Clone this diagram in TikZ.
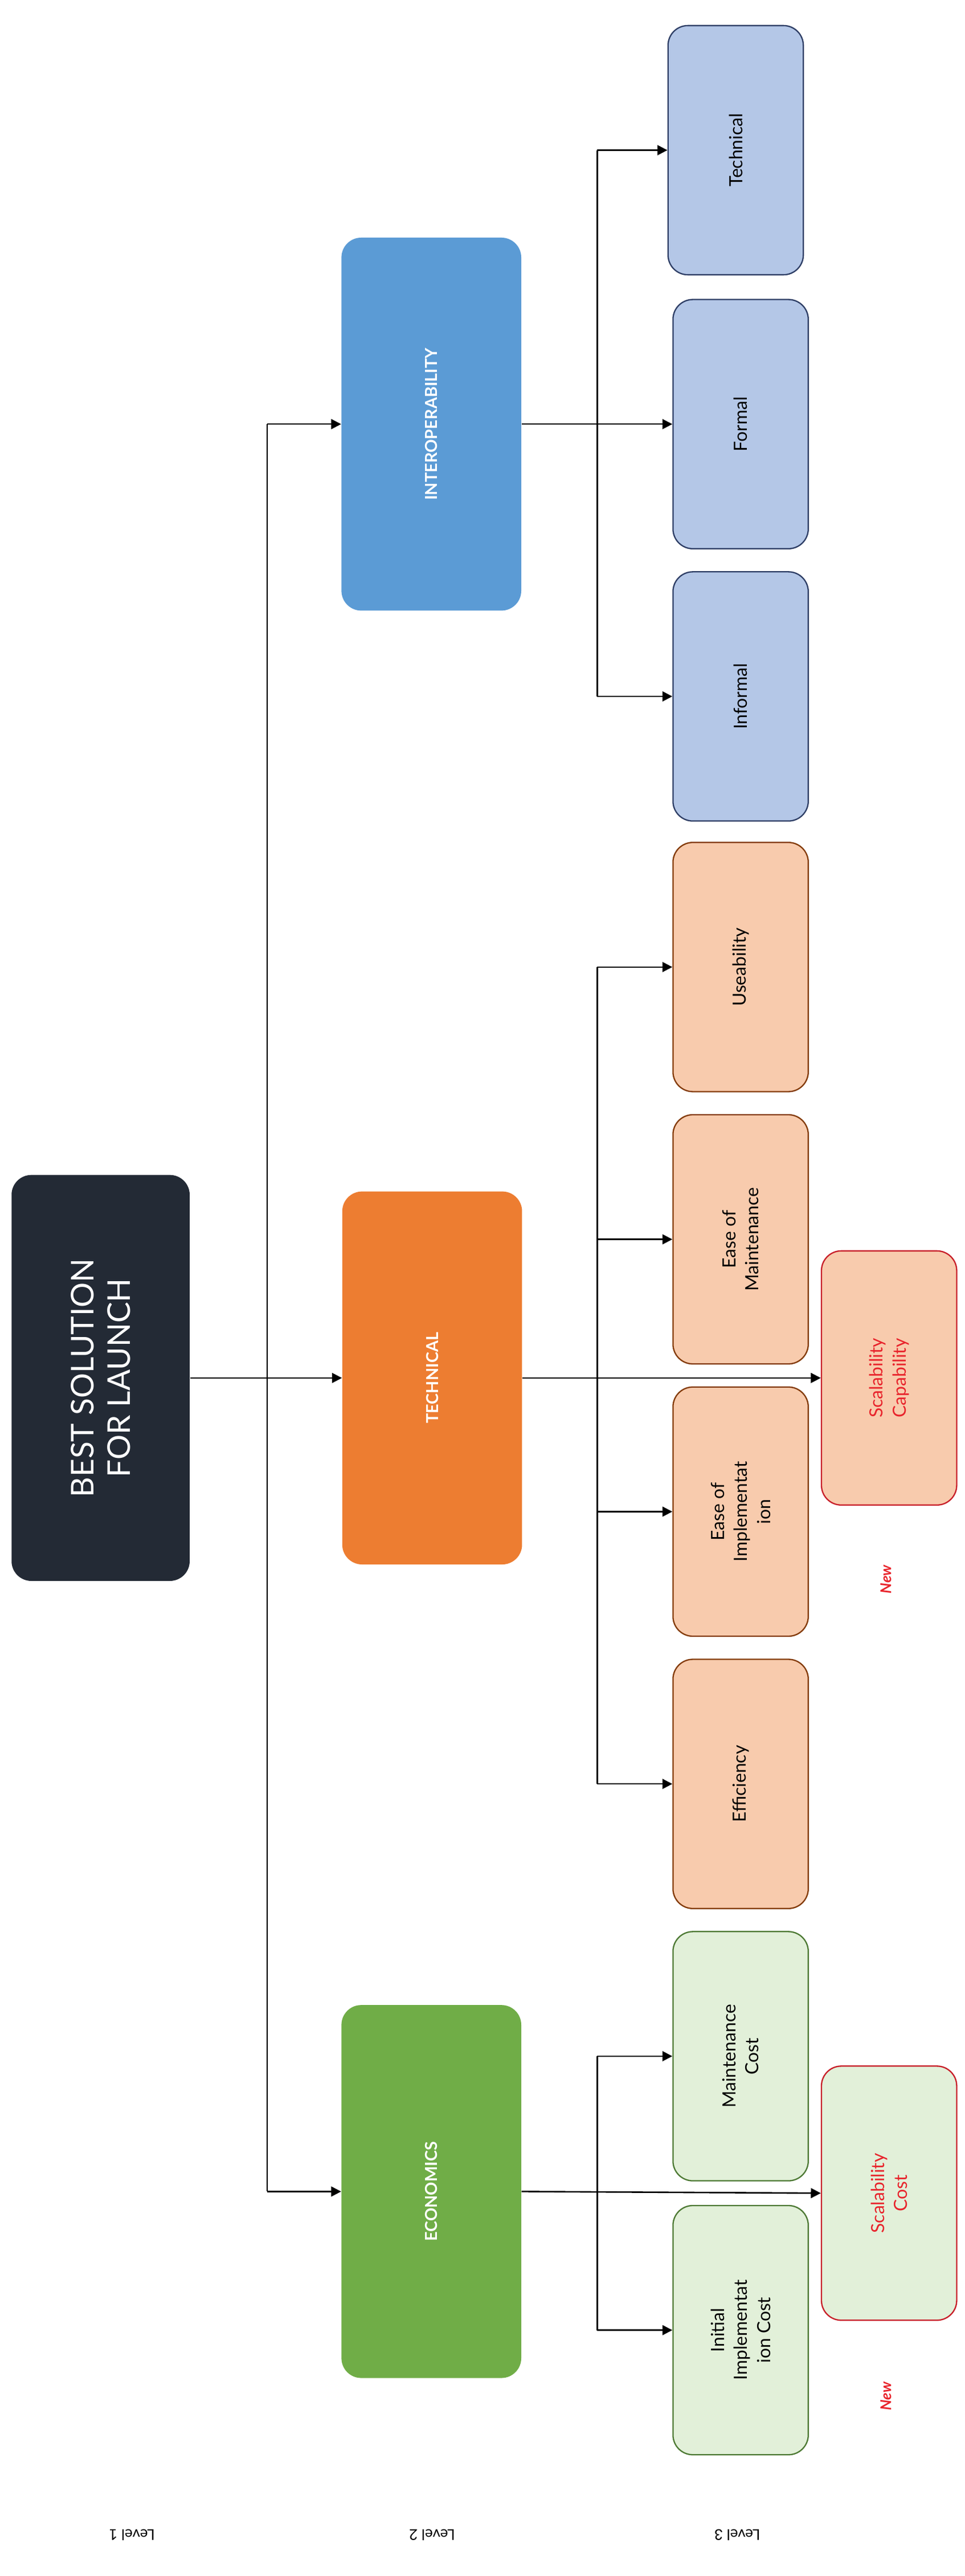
\documentclass[tikz,border=0pt]{standalone}
\usepackage{fontspec}
\setmainfont{Lato}
\usetikzlibrary{arrows.meta}
\definecolor{navy}{HTML}{232A35}
\definecolor{orng}{HTML}{ED7D31}
\definecolor{grn}{HTML}{70AD47}
\definecolor{blu}{HTML}{5B9BD5}
\definecolor{lblu}{HTML}{B4C7E7}
\definecolor{lbluB}{HTML}{2F3F66}
\definecolor{peach}{HTML}{F8CBAD}
\definecolor{peachB}{HTML}{843C0C}
\definecolor{lgrn}{HTML}{E2F0D9}
\definecolor{lgrnB}{HTML}{4E7A35}
\definecolor{rd}{HTML}{E8242C}
\definecolor{rdB}{HTML}{C8202A}
\begin{document}
\begin{tikzpicture}[x=1pt,y=1pt,
  box/.style={rotate=90,rounded corners=12pt,align=center,inner sep=2pt},
  top/.style={box,fill=navy,minimum width=246pt,minimum height=108pt,text=white,font=\fontsize{19}{22}\selectfont},
  lv2/.style={box,minimum width=226pt,minimum height=109pt,text=white,font=\bfseries\fontsize{10}{12}\selectfont},
  lv3/.style={box,minimum width=151pt,minimum height=82pt,draw,line width=0.8pt,font=\fontsize{11}{14}\selectfont},
  ib/.style={lv3,fill=lblu,draw=lbluB},
  tb/.style={lv3,fill=peach,draw=peachB},
  eb/.style={lv3,fill=lgrn,draw=lgrnB},
  nb/.style={text=rd,draw=rdB,minimum width=154pt},
  lvl/.style={rotate=180,font=\fontsize{9}{11}\selectfont},
  newt/.style={rotate=90,text=rd,font=\itshape\bfseries\fontsize{9}{11}\selectfont},
  ln/.style={line width=0.9pt},
  ar/.style={ln,-{Triangle[length=6pt,width=6pt]}}]
\useasboundingbox (0,0) rectangle (585,-1561);
% level 1
\node[top] (best) at (61,-835) {BEST SOLUTION\\FOR LAUNCH};
% level 2
\node[lv2,fill=blu] (inter) at (261.5,-257) {INTEROPERABILITY};
\node[lv2,fill=orng] (tech) at (262,-835) {TECHNICAL};
\node[lv2,fill=grn] (econ) at (261.5,-1328) {ECONOMICS};
% level 3 interop
\node[ib] (itec) at (446,-91) {Technical};
\node[ib] (ifor) at (449,-257) {Formal};
\node[ib] (iinf) at (449,-422) {Informal};
% level 3 technical
\node[tb] (tuse) at (449,-586) {Useability};
\node[tb] (tmai) at (449,-751) {Ease of\\Maintenance};
\node[tb] (timp) at (449,-916) {Ease of\\Implementat\\ion};
\node[tb] (teff) at (449,-1081) {Efficiency};
\node[tb,nb] (tsca) at (539,-835) {Scalability\\Capability};
% level 3 economics
\node[eb] (emai) at (449,-1246) {Maintenance\\Cost};
\node[eb] (eimp) at (449,-1412) {Initial\\Implementat\\ion Cost};
\node[eb,nb] (esca) at (539,-1329) {Scalability\\Cost};
% new labels
\node[newt] (n1) at (537,-957) {New};
\node[newt] (n2) at (537,-1452) {New};
% level labels
\node[lvl] (l1) at (80,-1536) {Level 1};
\node[lvl] (l2) at (262,-1536) {Level 2};
\node[lvl] (l3) at (447,-1536) {Level 3};
% connectors level1 -> level2
\coordinate (b1) at (162,-257);
\coordinate (b2) at (162,-835);
\coordinate (b3) at (162,-1328);
\draw[ln] (best.south) -- (b2);
\draw[ln] (b1) -- (b3);
\draw[ar] (b1) -- (inter.north);
\draw[ar] (b2) -- (tech.north);
\draw[ar] (b3) -- (econ.north);
% interop
\coordinate (i1) at (362,-91);
\coordinate (i2) at (362,-257);
\coordinate (i3) at (362,-422);
\draw[ln] (i1) -- (i3);
\draw[ar] (inter.south) -- (ifor.north);
\draw[ar] (i1) -- (itec.north);
\draw[ar] (i3) -- (iinf.north);
% technical
\coordinate (t1) at (362,-586);
\coordinate (t2) at (362,-751);
\coordinate (t3) at (362,-916);
\coordinate (t4) at (362,-1081);
\draw[ln] (t1) -- (t4);
\draw[ar] (tech.south) -- (tsca.north);
\draw[ar] (t1) -- (tuse.north);
\draw[ar] (t2) -- (tmai.north);
\draw[ar] (t3) -- (timp.north);
\draw[ar] (t4) -- (teff.north);
% economics
\coordinate (e1) at (362,-1246);
\coordinate (e2) at (362,-1412);
\draw[ln] (e1) -- (e2);
\draw[ar] (econ.south) -- (esca.north);
\draw[ar] (e1) -- (emai.north);
\draw[ar] (e2) -- (eimp.north);
\end{tikzpicture}
\end{document}
